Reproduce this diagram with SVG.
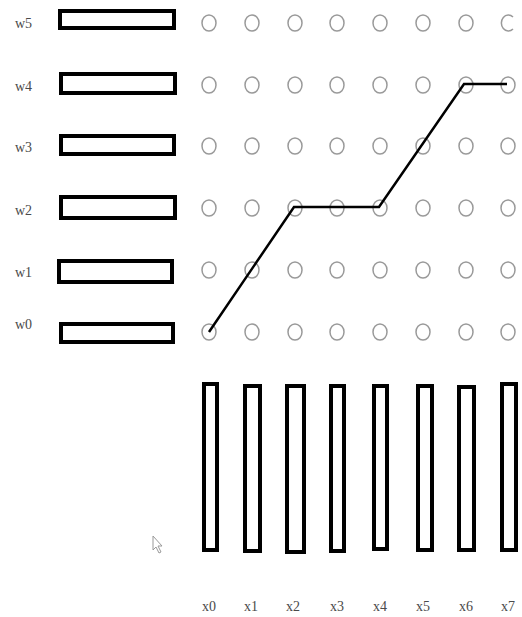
<svg xmlns="http://www.w3.org/2000/svg" width="522" height="617" viewBox="0 0 522 617">
<style>
.bar{fill:#fff;stroke:#000;stroke-width:4}
.c{fill:none;stroke:#9a9a9a;stroke-width:1.5}
.lbl{font-family:"Liberation Serif",serif;font-size:14px;fill:#4a4a4a}
.path{fill:none;stroke:#000;stroke-width:2.5;stroke-linejoin:miter}
</style>
<rect width="522" height="617" fill="#fff"/>
<g id="w5"><text class="lbl" x="15" y="28">w5</text><rect class="bar" x="60" y="11" width="114" height="17"/></g>
<g id="w4"><text class="lbl" x="15" y="91">w4</text><rect class="bar" x="61" y="74" width="114" height="19"/></g>
<g id="w3"><text class="lbl" x="15" y="152">w3</text><rect class="bar" x="61" y="136" width="113" height="18"/></g>
<g id="w2"><text class="lbl" x="15" y="215">w2</text><rect class="bar" x="61" y="197" width="114" height="21"/></g>
<g id="w1"><text class="lbl" x="15" y="277">w1</text><rect class="bar" x="59" y="261" width="113" height="21"/></g>
<g id="w0"><text class="lbl" x="15" y="329">w0</text><rect class="bar" x="61" y="324" width="112" height="18"/></g>
<g id="grid">
<g id="row5"><ellipse class="c" cx="209" cy="23" rx="7" ry="8"/><ellipse class="c" cx="252" cy="23" rx="7" ry="8"/><ellipse class="c" cx="295" cy="23" rx="7" ry="8"/><ellipse class="c" cx="337" cy="23" rx="7" ry="8"/><ellipse class="c" cx="380" cy="23" rx="7" ry="8"/><ellipse class="c" cx="423" cy="23" rx="7" ry="8"/><ellipse class="c" cx="466" cy="23" rx="7" ry="8"/><path class="c" d="M513,17 A7,8 0 1 0 513,29"/></g>
<g id="row4"><ellipse class="c" cx="209" cy="85" rx="7" ry="8"/><ellipse class="c" cx="252" cy="85" rx="7" ry="8"/><ellipse class="c" cx="295" cy="85" rx="7" ry="8"/><ellipse class="c" cx="337" cy="85" rx="7" ry="8"/><ellipse class="c" cx="380" cy="85" rx="7" ry="8"/><ellipse class="c" cx="423" cy="85" rx="7" ry="8"/><ellipse class="c" cx="466" cy="85" rx="7" ry="8"/><ellipse class="c" cx="508" cy="85" rx="7" ry="8"/></g>
<g id="row3"><ellipse class="c" cx="209" cy="146" rx="7" ry="8"/><ellipse class="c" cx="252" cy="146" rx="7" ry="8"/><ellipse class="c" cx="295" cy="146" rx="7" ry="8"/><ellipse class="c" cx="337" cy="146" rx="7" ry="8"/><ellipse class="c" cx="380" cy="146" rx="7" ry="8"/><ellipse class="c" cx="423" cy="146" rx="7" ry="8"/><ellipse class="c" cx="466" cy="146" rx="7" ry="8"/><ellipse class="c" cx="508" cy="146" rx="7" ry="8"/></g>
<g id="row2"><ellipse class="c" cx="209" cy="208" rx="7" ry="8"/><ellipse class="c" cx="252" cy="208" rx="7" ry="8"/><ellipse class="c" cx="295" cy="208" rx="7" ry="8"/><ellipse class="c" cx="337" cy="208" rx="7" ry="8"/><ellipse class="c" cx="380" cy="208" rx="7" ry="8"/><ellipse class="c" cx="423" cy="208" rx="7" ry="8"/><ellipse class="c" cx="466" cy="208" rx="7" ry="8"/><ellipse class="c" cx="508" cy="208" rx="7" ry="8"/></g>
<g id="row1"><ellipse class="c" cx="209" cy="270" rx="7" ry="8"/><ellipse class="c" cx="252" cy="270" rx="7" ry="8"/><ellipse class="c" cx="295" cy="270" rx="7" ry="8"/><ellipse class="c" cx="337" cy="270" rx="7" ry="8"/><ellipse class="c" cx="380" cy="270" rx="7" ry="8"/><ellipse class="c" cx="423" cy="270" rx="7" ry="8"/><ellipse class="c" cx="466" cy="270" rx="7" ry="8"/><ellipse class="c" cx="508" cy="270" rx="7" ry="8"/></g>
<g id="row0"><ellipse class="c" cx="209" cy="332" rx="7" ry="8"/><ellipse class="c" cx="252" cy="332" rx="7" ry="8"/><ellipse class="c" cx="295" cy="332" rx="7" ry="8"/><ellipse class="c" cx="337" cy="332" rx="7" ry="8"/><ellipse class="c" cx="380" cy="332" rx="7" ry="8"/><ellipse class="c" cx="423" cy="332" rx="7" ry="8"/><ellipse class="c" cx="466" cy="332" rx="7" ry="8"/><ellipse class="c" cx="508" cy="332" rx="7" ry="8"/></g>
</g>
<g id="connectors"><polyline class="path" points="209,332 294,207 379,207 464,84 507,84"/></g>
<g id="x0"><rect class="bar" x="204" y="384" width="13" height="166"/><text class="lbl" x="209" y="611" text-anchor="middle">x0</text></g>
<g id="x1"><rect class="bar" x="245" y="386" width="15" height="165"/><text class="lbl" x="251" y="611" text-anchor="middle">x1</text></g>
<g id="x2"><rect class="bar" x="287" y="386" width="17" height="166"/><text class="lbl" x="293" y="611" text-anchor="middle">x2</text></g>
<g id="x3"><rect class="bar" x="331" y="386" width="13" height="165"/><text class="lbl" x="337" y="611" text-anchor="middle">x3</text></g>
<g id="x4"><rect class="bar" x="374" y="386" width="13" height="163"/><text class="lbl" x="380" y="611" text-anchor="middle">x4</text></g>
<g id="x5"><rect class="bar" x="418" y="386" width="14" height="164"/><text class="lbl" x="423" y="611" text-anchor="middle">x5</text></g>
<g id="x6"><rect class="bar" x="459" y="387" width="15" height="163"/><text class="lbl" x="466" y="611" text-anchor="middle">x6</text></g>
<g id="x7"><rect class="bar" x="502" y="384" width="14" height="166"/><text class="lbl" x="508" y="611" text-anchor="middle">x7</text></g>
<path d="M153,536 L153,550 L156,547 L159,553 L161,552 L158,546 L162,546 Z" fill="#fff" stroke="#999" stroke-width="1"/>
</svg>
